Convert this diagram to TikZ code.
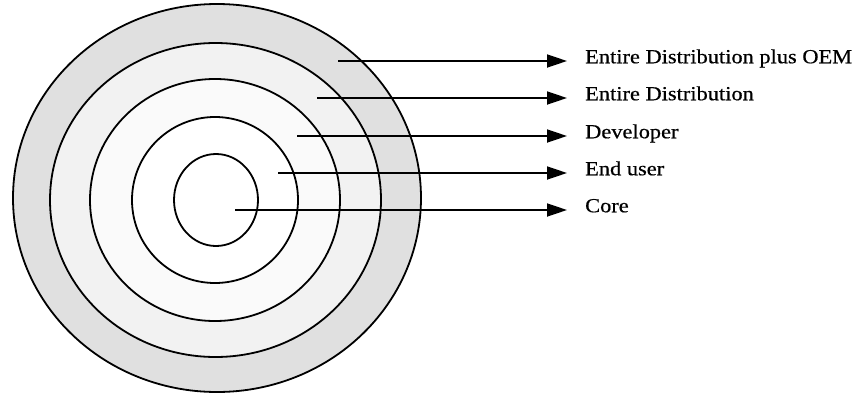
\documentclass[tikz,border=0pt]{standalone}
\usepackage{fontspec}
\setmainfont{Liberation Serif}[FakeStretch=1.12, FakeBold=0.6]
\usetikzlibrary{arrows.meta}
\tikzset{
  ring/.style={draw=black, line width=1.8pt},
  pointer/.style={line width=1.8pt, -{Triangle[length=20pt, width=13pt]}},
  lbl/.style={anchor=west, inner xsep=18pt, inner ysep=0pt, text height=0.7em, text depth=0.25em, font=\fontsize{20}{24}\selectfont}
}
\begin{document}
\begin{tikzpicture}[x=1pt, y=-1pt]
\useasboundingbox (0,0) rectangle (863,394);
% rings
\fill[gray!24] (217,198) ellipse [x radius=204, y radius=194];
\fill[gray!10] (215.5,200) ellipse [x radius=165.5, y radius=157];
\fill[white!96!gray] (215,200) ellipse [x radius=125, y radius=121];
\draw[ring] (217,198) ellipse [x radius=204, y radius=194];
\draw[ring] (215.5,200) ellipse [x radius=165.5, y radius=157];
\draw[ring] (215,200) ellipse [x radius=125, y radius=121];
\draw[ring, fill=white] (215,200) ellipse [x radius=83, y radius=83];
\draw[ring] (216,200) ellipse [x radius=42, y radius=46];
% labels
\node[lbl] (oem) at (567,61) {Entire Distribution plus OEM};
\node[lbl] (dist) at (567,98) {Entire Distribution};
\node[lbl] (dev) at (567,136) {Developer};
\node[lbl] (user) at (567,173) {End user};
\node[lbl] (core) at (567,210) {Core};
% start points
\coordinate (s1) at (338,61);
\coordinate (s2) at (317,98);
\coordinate (s3) at (297,136);
\coordinate (s4) at (278,173);
\coordinate (s5) at (235,210);
\draw[pointer] (s1) -- (oem.west);
\draw[pointer] (s2) -- (dist.west);
\draw[pointer] (s3) -- (dev.west);
\draw[pointer] (s4) -- (user.west);
\draw[pointer] (s5) -- (core.west);
\end{tikzpicture}
\end{document}
